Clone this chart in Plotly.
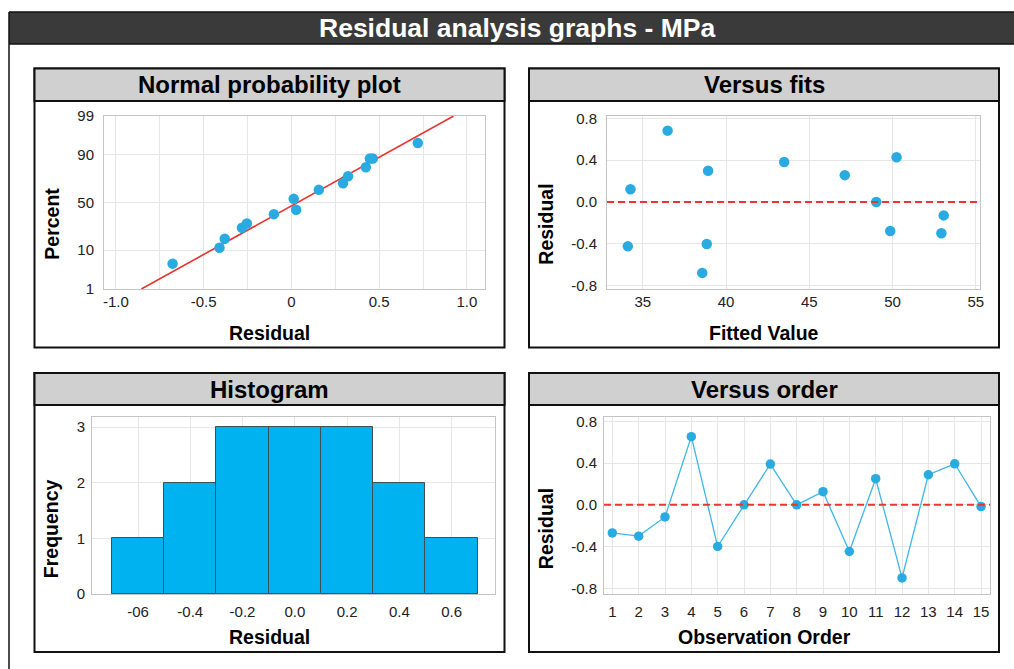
import plotly.graph_objects as go
from statistics import NormalDist

# ---------------- data ----------------
npp_residual = [-0.677, -0.41, -0.38, -0.282, -0.254, -0.10, 0.013, 0.027,
                0.156, 0.294, 0.323, 0.424, 0.447, 0.464, 0.72]
npp_percent = [5.0, 11.2, 16.5, 24.8, 28.6, 37.7, 53.9, 42.2,
               63.3, 69.8, 76.0, 82.8, 88.1, 88.1, 94.5]
fit_residual = [-0.855, 0.924]
fit_percent = [1, 99]
npp_x_ticks = [-1.0, -0.5, 0.0, 0.5, 1.0]
npp_x_ticktext = ["-1.0", "-0.5", "0", "0.5", "1.0"]
npp_x_minor = [-0.75, -0.25, 0.25, 0.75]
npp_y_ticks = [1, 10, 50, 90, 99]

fits_x = [34.26, 34.10, 36.49, 38.92, 38.84, 38.57, 43.49, 47.13,
          49.02, 49.86, 50.24, 52.93, 53.07]
fits_resid = [0.122, -0.425, 0.682, 0.298, -0.402, -0.679, 0.382, 0.256,
              0.0, -0.278, 0.428, -0.30, -0.129]
fits_x_ticks = [35, 40, 45, 50, 55]

resid_ticks = [0.8, 0.4, 0.0, -0.4, -0.8]
resid_ticktext = ["0.8", "0.4", "0.0", "-0.4", "-0.8"]

hist_centers = [-0.6, -0.4, -0.2, 0.0, 0.2, 0.4, 0.6]
hist_counts = [1, 2, 3, 3, 3, 2, 1]
hist_ticktext = ["-06", "-0.4", "-0.2", "0.0", "0.2", "0.4", "0.6"]
hist_y_ticks = [0, 1, 2, 3]

order_x = list(range(1, 16))
order_resid = [-0.269, -0.30, -0.116, 0.653, -0.399, 0.0, 0.39, 0.0,
               0.126, -0.447, 0.25, -0.70, 0.288, 0.393, -0.017]

# ---------------- helpers ----------------
W, H = 1014, 669
FONT = "Liberation Sans, Arial, sans-serif"
BLUE = "#29abe2"
RED = "#e8322c"
GRID = "#e6e6e6"
FRAME = "#c4c4c4"

nd = NormalDist()
z = lambda p: nd.inv_cdf(p / 100.0)


def px(x):
    return x / W


def py(y):
    return 1 - y / H


fig = go.Figure()

# Normal probability plot
fig.add_trace(go.Scatter(x=fit_residual, y=[z(p) for p in fit_percent], mode="lines",
                         line=dict(color=RED, width=1.6), xaxis="x", yaxis="y",
                         showlegend=False, hoverinfo="skip"))
fig.add_trace(go.Scatter(x=npp_residual, y=[z(p) for p in npp_percent], mode="markers",
                         marker=dict(color=BLUE, size=10.5), xaxis="x", yaxis="y",
                         showlegend=False))

# Versus fits
fig.add_trace(go.Scatter(x=fits_x, y=fits_resid, mode="markers",
                         marker=dict(color=BLUE, size=10.5), xaxis="x2", yaxis="y2",
                         showlegend=False))

# Histogram
fig.add_trace(go.Bar(x=hist_centers, y=hist_counts, width=0.2,
                     marker=dict(color="#00b2ef", line=dict(color="#3d4f57", width=1)),
                     xaxis="x3", yaxis="y3", showlegend=False))

# Versus order
fig.add_trace(go.Scatter(x=order_x, y=order_resid, mode="lines+markers",
                         line=dict(color="#3fb5e8", width=1.3),
                         marker=dict(color=BLUE, size=9.5), xaxis="x4", yaxis="y4",
                         showlegend=False))

tickfont = dict(family=FONT, size=15, color="#222222")


def xax(dom, rng, anchor, **kw):
    d = dict(domain=[px(dom[0]), px(dom[1])], range=rng, anchor=anchor, showgrid=True,
             gridcolor=GRID, gridwidth=1, zeroline=False, showline=True, mirror=True,
             linecolor=FRAME, linewidth=1, ticks="", tickfont=tickfont,
             ticklabelstandoff=-1, fixedrange=True, automargin=False)
    d.update(kw)
    return d


def yax(dom, rng, anchor, **kw):
    d = dict(domain=[py(dom[1]), py(dom[0])], range=rng, anchor=anchor, showgrid=True,
             gridcolor=GRID, gridwidth=1, zeroline=False, showline=True, mirror=True,
             linecolor=FRAME, linewidth=1, ticks="", tickfont=tickfont,
             ticklabelstandoff=6, fixedrange=True, automargin=False)
    d.update(kw)
    return d


zmax = z(99)
fig.update_layout(
    width=W, height=H, margin=dict(l=0, r=0, t=0, b=0, pad=0, autoexpand=False),
    autosize=False,
    paper_bgcolor="white", plot_bgcolor="white",
    font=dict(family=FONT),
    xaxis=xax((104, 485), [-1.068, 1.103], "y", tickmode="array", tickvals=npp_x_ticks,
              ticktext=npp_x_ticktext,
              minor=dict(tickmode="array", tickvals=npp_x_minor, showgrid=True,
                         gridcolor=GRID, ticks="")),
    yaxis=yax((116, 289), [-zmax, zmax], "x", tickmode="array",
              tickvals=[z(p) for p in npp_y_ticks], ticktext=[str(p) for p in npp_y_ticks]),
    xaxis2=xax((607, 980), [32.85, 55.25], "y2", tickmode="array", tickvals=fits_x_ticks,
               ticktext=[str(v) for v in fits_x_ticks]),
    yaxis2=yax((116, 289), [-0.833, 0.822], "x2", tickmode="array", tickvals=resid_ticks,
               ticktext=resid_ticktext),
    xaxis3=xax((92, 495), [-0.776, 0.766], "y3", tickmode="array", tickvals=hist_centers,
               ticktext=hist_ticktext, ticklabelstandoff=4),
    yaxis3=yax((417, 594), [0, 3.18], "x3", tickmode="array", tickvals=hist_y_ticks,
               ticktext=[str(v) for v in hist_y_ticks], ticklabelstandoff=3),
    xaxis4=xax((604, 990), [0.684, 15.34], "y4", tickmode="array", tickvals=order_x,
               ticktext=[str(v) for v in order_x], ticklabelstandoff=4),
    yaxis4=yax((417, 594), [-0.854, 0.841], "x4", tickmode="array", tickvals=resid_ticks,
               ticktext=resid_ticktext, ticklabelstandoff=3),
    bargap=0,
)

shapes = []
BORDER = dict(color="#111111", width=1.5)
# outer frame (left and top edges visible) + dark header
shapes.append(dict(type="rect", xref="paper", yref="paper", x0=px(9), x1=1,
                   y0=py(44), y1=py(12), line=dict(width=0),
                   fillcolor="#3a3a3a", layer="below"))
shapes.append(dict(type="line", xref="paper", yref="paper", x0=px(9), x1=px(9),
                   y0=0, y1=py(12), line=BORDER, layer="below"))
for yy in (12, 44):
    shapes.append(dict(type="line", xref="paper", yref="paper", x0=px(9), x1=1,
                       y0=py(yy), y1=py(yy), line=BORDER, layer="below"))

panels = [
    (34.5, 504.5, 68.5, 101, 347.5, "Normal probability plot"),
    (529, 999, 68.5, 101, 347.5, "Versus fits"),
    (34.5, 504.5, 373, 405, 652, "Histogram"),
    (529, 999, 373, 405, 652, "Versus order"),
]
annotations = []
for (x0, x1, y0, yh, y1, title) in panels:
    shapes.append(dict(type="rect", xref="paper", yref="paper", x0=px(x0), x1=px(x1),
                       y0=py(y1), y1=py(y0), line=dict(color="#111111", width=2),
                       fillcolor="white", layer="below"))
    shapes.append(dict(type="rect", xref="paper", yref="paper", x0=px(x0), x1=px(x1),
                       y0=py(yh), y1=py(y0), line=dict(color="#111111", width=2),
                       fillcolor="#d0d0d0", layer="below"))
    annotations.append(dict(text="<b>%s</b>" % title, xref="paper", yref="paper",
                            x=px((x0 + x1) / 2), y=py((y0 + yh) / 2), showarrow=False,
                            xanchor="center", yanchor="middle",
                            font=dict(family=FONT, size=24, color="black")))

# dashed zero reference lines
for xr, yr in (("x2", "y2"), ("x4", "y4")):
    shapes.append(dict(type="line", xref=xr + " domain", yref=yr, x0=0, x1=1, y0=0, y1=0,
                       line=dict(color="#ee3333", width=2, dash="7px,4px"), layer="above"))

# main title
annotations.append(dict(text="<b>Residual analysis graphs - MPa</b>", xref="paper",
                        yref="paper", x=px(517), y=py(28), showarrow=False,
                        xanchor="center", yanchor="middle",
                        font=dict(family=FONT, size=26.5, color="white")))

# axis titles
axis_titles = [
    ("Residual", 269.5, 333, 0),
    ("Percent", 51.7, 224, -90),
    ("Fitted Value", 764, 333, 0),
    ("Residual", 545.7, 224, -90),
    ("Residual", 269.5, 637, 0),
    ("Frequency", 50.7, 528.5, -90),
    ("Observation Order", 764, 637, 0),
    ("Residual", 545.7, 528.5, -90),
]
for text, x, y, ang in axis_titles:
    annotations.append(dict(text="<b>%s</b>" % text, xref="paper", yref="paper",
                            x=px(x), y=py(y), showarrow=False, textangle=ang,
                            xanchor="center", yanchor="middle",
                            font=dict(family=FONT, size=19.5, color="black")))

fig.update_layout(shapes=shapes, annotations=annotations)
fig.write_html(
    "out.html",
    config={"displayModeBar": False, "responsive": False},
    post_script=(
        "document.documentElement.style.margin='0';"
        "document.documentElement.style.overflow='hidden';"
        "document.body.style.margin='0';"
        "document.body.style.overflow='hidden';"
        "var gd=document.getElementById('{plot_id}');"
        "gd.style.position='fixed';gd.style.top='0px';gd.style.left='0px';"
    ),
)
